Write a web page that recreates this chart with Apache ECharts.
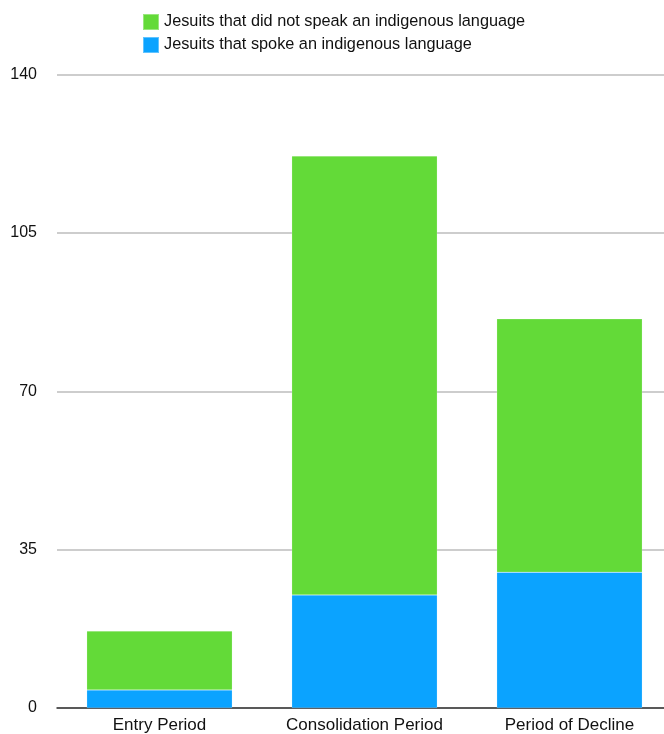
<!DOCTYPE html>
<html>
<head>
<meta charset="utf-8">
<script src="https://cdn.jsdelivr.net/npm/echarts@6/dist/echarts.min.js"></script>
<style>
html,body{margin:0;padding:0;background:#fff;overflow:hidden;width:664px;height:734px;}
#c{width:672px;height:734px;}
</style>
</head>
<body>
<div id="c"></div>
<script>
var categories = ['Entry Period', 'Consolidation Period', 'Period of Decline'];
var spokeIndigenous = [4, 25, 30];
var didNotSpeak = [13, 97, 56];
var yTicks = [0, 35, 70, 105, 140];
var seriesNames = ['Jesuits that did not speak an indigenous language', 'Jesuits that spoke an indigenous language'];

var chart = echarts.init(document.getElementById('c'), null, {renderer: 'canvas'});
var font = '"Liberation Sans", Arial, Helvetica, sans-serif';
chart.setOption({
  animation: false,
  textStyle: {fontFamily: font},
  legend: {
    orient: 'vertical',
    left: 142,
    top: 13,
    padding: 0,
    itemWidth: 16,
    itemHeight: 16,
    itemGap: 5,
    icon: 'rect',
    textStyle: {fontSize: 16.3, color: '#111', fontFamily: font},
    data: [seriesNames[0], seriesNames[1]]
  },
  grid: {left: 57, right: 0, top: 74.5, height: 636, containLabel: false},
  xAxis: {
    type: 'category',
    data: categories,
    axisLine: {show: true, lineStyle: {color: '#333', width: 1.5}},
    axisTick: {show: false},
    axisLabel: {interval: 0, fontSize: 17, color: '#111', margin: 9, fontFamily: font}
  },
  yAxis: {
    type: 'value',
    min: yTicks[0],
    max: yTicks[yTicks.length - 1],
    interval: 35,
    axisLine: {show: false},
    axisTick: {show: false},
    axisLabel: {fontSize: 16, color: '#111', margin: 20, fontFamily: font},
    splitLine: {lineStyle: {color: '#bdbdbd', width: 1.5}}
  },
  series: [
    {
      name: seriesNames[1],
      type: 'bar',
      stack: 'total',
      barWidth: '71%',
      data: spokeIndigenous,
      itemStyle: {color: '#0BA3FF', borderColor: 'rgba(255,255,255,0.35)', borderWidth: 0.5}
    },
    {
      name: seriesNames[0],
      type: 'bar',
      stack: 'total',
      barWidth: '71%',
      data: didNotSpeak,
      itemStyle: {color: '#63DA38', borderColor: 'rgba(255,255,255,0.35)', borderWidth: 0.5}
    }
  ]
});
</script>
</body>
</html>
